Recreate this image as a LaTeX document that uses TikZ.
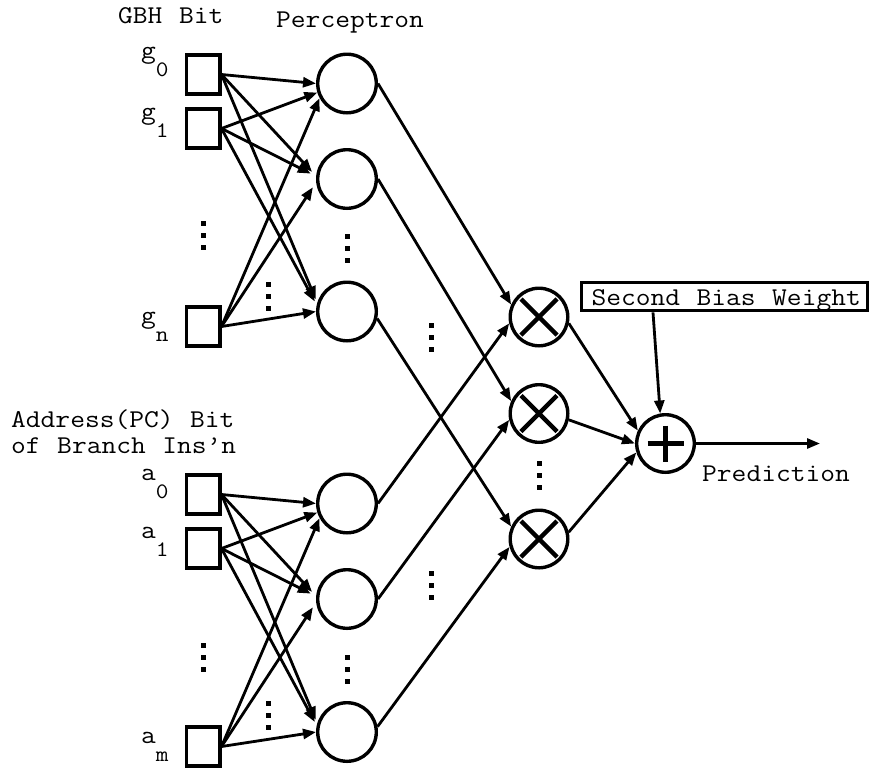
\documentclass[tikz,border=0pt]{standalone}
\usepackage{fontspec}
\setmonofont[FakeStretch=1.12, WordSpace=1.12]{Latin Modern Mono}
\usetikzlibrary{arrows.meta}

\newcommand{\lowidx}[1]{\raisebox{-18pt}{\fontsize{22}{22}\selectfont #1}}

\begin{document}
\begin{tikzpicture}[x=1pt, y=1pt,
    bitbox/.style={draw, line width=3.6pt, minimum width=33.4pt, minimum height=39.4pt, inner sep=0pt},
    neuron/.style={draw, circle, line width=3.4pt, minimum size=58.6pt, inner sep=0pt},
    opnode/.style={draw, circle, line width=3.4pt, minimum size=57.6pt, inner sep=0pt},
    mult/.style={opnode, path picture={
        \draw[line width=4.4pt] ([shift={(-18pt,-18pt)}]path picture bounding box.center) -- ++(36pt,36pt)
                                ([shift={(-18pt,18pt)}]path picture bounding box.center) -- ++(36pt,-36pt);}},
    adder/.style={opnode, path picture={
        \draw[line width=4.4pt] ([xshift=-18pt]path picture bounding box.center) -- ++(36pt,0pt)
                                ([yshift=18pt]path picture bounding box.center) -- ++(0pt,-36pt);}},
    wire/.style={line width=2.8pt, -{Triangle[length=13pt,width=10pt]}},
    lbl/.style={inner sep=0pt, anchor=base west, font=\ttfamily\fontsize{25.6}{25.6}\selectfont}]
\useasboundingbox (0,0) rectangle (870,-769);

% titles
\node[lbl] (gbh) at (118,-23) {GBH Bit};
\node[lbl] (perc) at (276,-27.5) {Perceptron};
\node[lbl] (addr) at (11,-427) {Address(PC) Bit};
\node[lbl] (addr2) at (11,-453) {of Branch Ins’n};

% input bits
\node[bitbox] (g0) at (203,-74.5) {};
\node[bitbox] (g1) at (203,-128.5) {};
\node[bitbox] (gn) at (203,-326.5) {};
\node[bitbox] (a0) at (203,-494.5) {};
\node[bitbox] (a1) at (203,-548.5) {};
\node[bitbox] (am) at (203,-746.5) {};
\node[lbl] (lg0) at (141,-58.5) {g\lowidx{0}};
\node[lbl] (lg1) at (141,-119.5) {g\lowidx{1}};
\node[lbl] (lgn) at (141,-323.5) {g\lowidx{n}};
\node[lbl] (la0) at (141,-480) {a\lowidx{0}};
\node[lbl] (la1) at (141,-538) {a\lowidx{1}};
\node[lbl] (lam) at (141,-743) {a\lowidx{m}};

% perceptrons
\node[neuron] (p0) at (347,-83.5) {};
\node[neuron] (p1) at (347,-179) {};
\node[neuron] (pn) at (347,-311.5) {};
\node[neuron] (q0) at (347,-503.5) {};
\node[neuron] (q1) at (347,-599) {};
\node[neuron] (qm) at (347,-732) {};

% multipliers and adder
\node[mult] (m0) at (539,-317) {};
\node[mult] (m1) at (539,-413.5) {};
\node[mult] (mk) at (539,-539) {};
\node[adder] (sum) at (665.5,-443.5) {};
\node[draw, line width=3pt, anchor=north west, inner xsep=4pt, inner ysep=3.7pt,
      text height=19.5pt, text depth=1.5pt,
      font=\ttfamily\fontsize{25.6}{25.6}\selectfont] (bias) at (580,-281)
      {\makebox[278pt][l]{\hspace*{6pt}Second Bias Weight}};
\coordinate (out) at (820,-443.5);
\node[lbl] (pred) at (702,-481) {Prediction};

% bits to perceptrons
\foreach \i/\j/\p in {g/n/p, a/m/q} {
  \draw[wire] (\i0.east) -- (\p0.180);
  \draw[wire] (\i1.east) -- (\p0.197);
  \draw[wire] (\i\j.east) -- (\p0.208);
  \draw[wire, shorten >=6pt] (\i0.east) -- (\p1.175);
  \draw[wire, shorten >=6pt] (\i1.east) -- (\p1.175);
  \draw[wire, shorten >=6pt] (\i\j.east) -- (\p1.186);
  \draw[wire, shorten >=4pt] (\i0.east) -- (\p\j.164);
  \draw[wire, shorten >=4pt] (\i1.east) -- (\p\j.168);
  \draw[wire] (\i\j.east) -- (\p\j.180);
}

% perceptrons to multipliers
\draw[wire] (p0.east) -- (m0.156);
\draw[wire] (p1.east) -- (m1.156);
\draw[wire] (pn.-13) -- (mk.156);
\draw[wire] (q0.east) -- (m0.192);
\draw[wire] (q1.east) -- (m1.192);
\draw[wire] (qm.10) -- (mk.195);

% sum and output
\draw[wire] (m0.-12) -- (sum.155);
\draw[wire] (m1.-12) -- (sum.180);
\draw[wire] (mk.13) -- (sum.197);
\draw[wire] ([xshift=-71.5pt]bias.south) -- (sum.100);
\draw[wire] (sum.east) -- (out);

% vertical dots
\foreach \x/\y in {203/223, 347/236, 268/284, 431/325, 203/645, 347/657, 268/703, 431/573, 539/463}
  \foreach \k in {0,1,2}
    \fill (\x-2.5,-\y-\k*12-2.5) rectangle ++(5,5);

\end{tikzpicture}
\end{document}
